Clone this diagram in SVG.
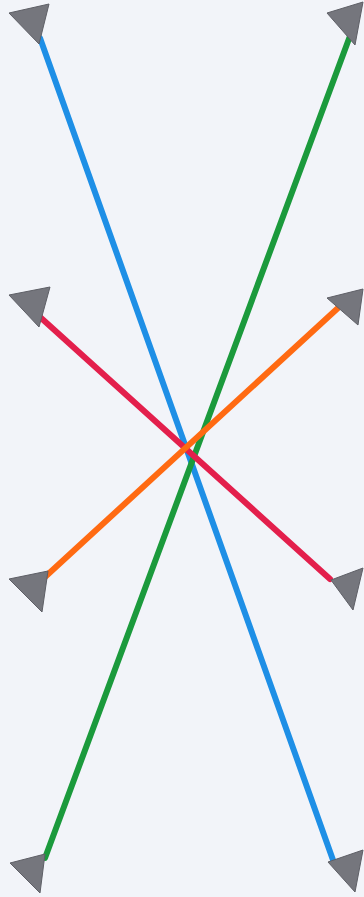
<svg xmlns="http://www.w3.org/2000/svg" width="364" height="897" viewBox="0 0 364 897">
<style>
.bg{fill:#f2f4f9}
.line{stroke-width:6;stroke-linecap:round;fill:none}
.tri{fill:#75767d;stroke:#5e5f66;stroke-width:1;stroke-linejoin:round}
</style>
<rect class="bg" x="0" y="0" width="364" height="897"/>
<g id="connectors">
<line class="line" x1="40" y1="38" x2="333" y2="860" stroke="#1e8fe6"/>
<line class="line" x1="45" y1="858" x2="350" y2="36" stroke="#1b9a3c"/>
<line class="line" x1="40" y1="317" x2="330" y2="579" stroke="#e31f4c"/>
<line class="line" x1="45" y1="577" x2="338" y2="308" stroke="#ff6a12"/>
</g>
<g id="node-tl"><polygon class="tri" points="9,13 49,4 39,44"/></g>
<g id="node-tr"><polygon class="tri" points="327,13 363,2 355,45"/></g>
<g id="node-ml"><polygon class="tri" points="9,295 50,287 39,327"/></g>
<g id="node-mr"><polygon class="tri" points="327,298 363,289 358,325"/></g>
<g id="node-bl1"><polygon class="tri" points="9,579 48,571 42,612"/></g>
<g id="node-br1"><polygon class="tri" points="331,580 363,568 353,610"/></g>
<g id="node-bl2"><polygon class="tri" points="10,863 45,854 40,893"/></g>
<g id="node-br2"><polygon class="tri" points="328,862 363,850 355,892"/></g>
</svg>
